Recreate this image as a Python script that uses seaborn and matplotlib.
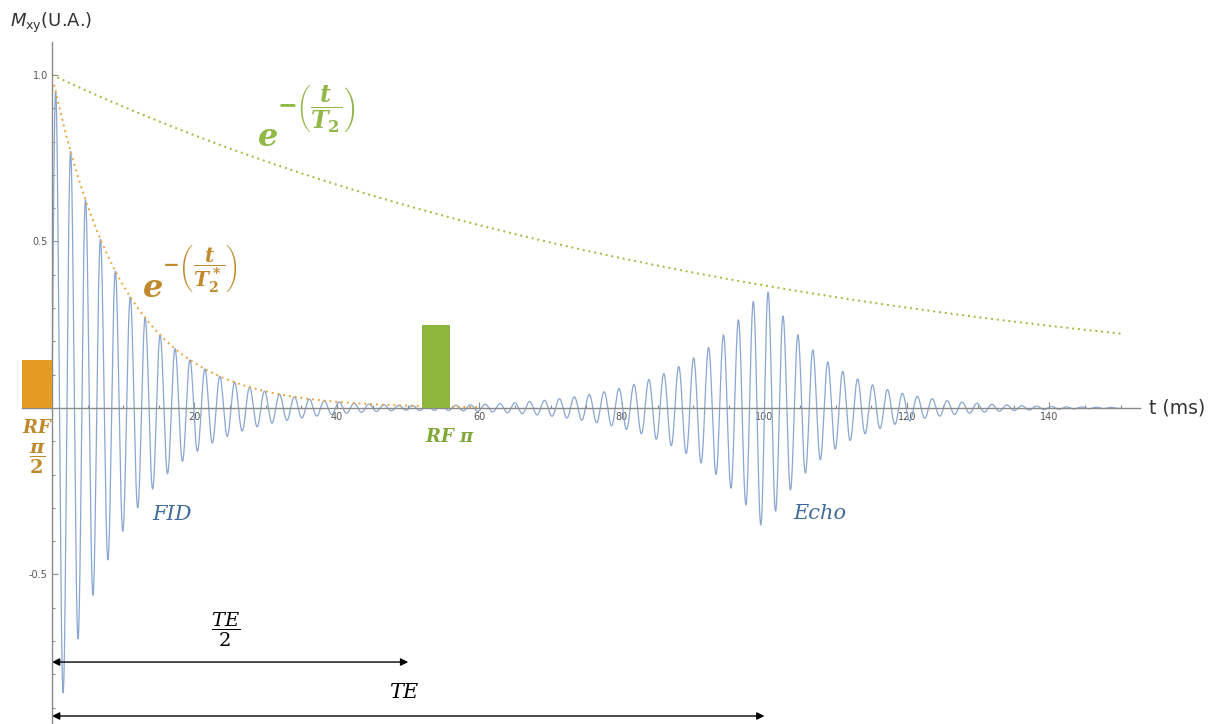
import numpy as np
import pandas as pd
import matplotlib
matplotlib.use("Agg")
import matplotlib.pyplot as plt
import seaborn as sns
from matplotlib.ticker import FixedLocator

# ---- values ----
T2 = 100.0          # ms, slow (T2) envelope
T2_star = 10.0      # ms, fast (T2*) envelope
omega = 3.0         # rad/ms, precession (period ~2.1 ms)
TE = 100.0          # ms, echo time
t_end = 150.0       # ms, end of the simulated signal
t_star_end = 60.0   # ms, end of the drawn T2* envelope

pulse_names = ["RF pi/2", "RF pi"]
pulse_start = [-4.2, 52.0]
pulse_width = [4.2, 3.8]
pulse_height = [0.145, 0.25]

x_ticks = [20, 40, 60, 80, 100, 120, 140]
y_ticks = [-0.5, 0.5, 1.0]
x_tick_labels = ["20", "40", "60", "80", "100", "120", "140"]
y_tick_labels = ["-0.5", "0.5", "1.0"]
x_minor_ticks = [5, 10, 15, 25, 30, 35, 45, 50, 55, 65, 70, 75, 85, 90, 95,
                 105, 110, 115, 125, 130, 135, 145, 150]
y_minor_ticks = [-0.9, -0.8, -0.7, -0.6, -0.4, -0.3, -0.2, -0.1,
                 0.1, 0.2, 0.3, 0.4, 0.6, 0.7, 0.8, 0.9]

# ---- model curves ----
t = np.linspace(0, t_end, 12001)
fid = np.exp(-t / T2_star) * np.sin(omega * t)
echo = np.where(t >= TE / 2,
                np.exp(-t / T2) * np.exp(-np.abs(t - TE) / T2_star) * np.sin(omega * (t - TE)),
                0.0)
sig_df = pd.DataFrame({"t": t, "signal": fid + echo})

t2_df = pd.DataFrame({"t": t})
t2_df["env"] = np.exp(-t2_df["t"] / T2)
ts = np.linspace(0.3, t_star_end, 600)
t2s_df = pd.DataFrame({"t": ts, "env": np.exp(-ts / T2_star)})

# ---- style ----
sns.set_theme(style="white")
plt.rcParams["font.family"] = ["DejaVu Sans"]
plt.rcParams["mathtext.fontset"] = "custom"
plt.rcParams["mathtext.it"] = "DejaVu Serif:italic:bold"
plt.rcParams["mathtext.rm"] = "DejaVu Serif:bold"
plt.rcParams["mathtext.bf"] = "DejaVu Serif:italic:bold"
plt.rcParams["mathtext.sf"] = "DejaVu Serif:bold"

C_SIG = "#8aa6d1"
C_ORANGE_BAR = "#E39B24"
C_GOLD_TXT = "#C08A2C"
C_GREEN_BAR = "#8DB63C"
C_GREEN_TXT = "#8FB845"
C_GREEN_DOT = "#A9B43A"
C_ORANGE_DOT = "#E7A53A"
C_AXIS = "#8a8a8a"
C_BLUE_TXT = "#3E6A9C"

fig = plt.figure(figsize=(12.09, 7.24), dpi=100)
ax = fig.add_axes([0, 0, 1, 1])
ax.set_xlim(-7.30, 162.4)
ax.set_ylim(-0.949, 1.225)

# signal and envelopes
sns.lineplot(data=sig_df, x="t", y="signal", ax=ax, color=C_SIG, lw=0.9,
             estimator=None, sort=False, zorder=2)
sns.lineplot(data=t2_df, x="t", y="env", ax=ax, color=C_GREEN_DOT, lw=1.4,
             linestyle=(0, (1, 2)), estimator=None, sort=False, zorder=2)
sns.lineplot(data=t2s_df, x="t", y="env", ax=ax, color=C_ORANGE_DOT, lw=1.4,
             linestyle=(0, (1, 2)), estimator=None, sort=False, zorder=2)

# RF pulses
ax.bar(pulse_start, pulse_height, width=pulse_width, align="edge",
       color=[C_ORANGE_BAR, C_GREEN_BAR], zorder=4, linewidth=0)

# axes
for s in ["top", "right"]:
    ax.spines[s].set_visible(False)
ax.spines["left"].set_position(("data", 0))
ax.spines["bottom"].set_position(("data", 0))
ax.spines["left"].set_bounds(-0.95, 1.1)
ax.spines["bottom"].set_bounds(-4.2, 152.7)
for s in ["left", "bottom"]:
    ax.spines[s].set_color(C_AXIS)
    ax.spines[s].set_linewidth(1.0)
    ax.spines[s].set_zorder(3)

ax.xaxis.set_major_locator(FixedLocator(x_ticks))
ax.set_xticklabels(x_tick_labels)
ax.xaxis.set_minor_locator(FixedLocator(x_minor_ticks))
ax.yaxis.set_major_locator(FixedLocator(y_ticks))
ax.set_yticklabels(y_tick_labels)
ax.yaxis.set_minor_locator(FixedLocator(y_minor_ticks))
ax.tick_params(which="both", direction="in", color=C_AXIS, width=0.8,
               labelsize=7, labelcolor="#555555", pad=3,
               bottom=True, left=True)
ax.tick_params(which="major", length=4)
ax.tick_params(which="minor", length=2)
ax.set_xlabel("")
ax.set_ylabel("")
ax.grid(False)

# axis titles
ax.text(-5.9, 1.155, r"$M_{\mathrm{xy}}$(U.A.)", fontsize=13, color="#333333",
        ha="left", va="center", math_fontfamily="dejavusans")
ax.text(154.0, 0.0, "t (ms)", fontsize=13.5, color="#333333", ha="left", va="center")

# envelope labels: base "e" and a large exponent block
ax.text(28.77, 0.812, r"$e$", fontsize=23, color=C_GREEN_TXT, ha="left",
        va="center", math_fontfamily="custom")
ax.text(31.6, 0.90, r"$-\left(\dfrac{t}{T_2}\right)$", fontsize=17,
        color=C_GREEN_TXT, ha="left", va="center", math_fontfamily="custom")
ax.text(12.6, 0.359, r"$e$", fontsize=23, color=C_GOLD_TXT, ha="left",
        va="center", math_fontfamily="custom")
ax.text(15.4, 0.42, r"$-\left(\dfrac{t}{T_2^*}\right)$", fontsize=14.5,
        color=C_GOLD_TXT, ha="left", va="center", math_fontfamily="custom")

# pulse labels
ax.text(-2.0, -0.06, r"$RF$", fontsize=13, color=C_GOLD_TXT, ha="center",
        va="center", math_fontfamily="custom")
ax.text(-2.0, -0.152, r"$\dfrac{\pi}{2}$", fontsize=14, color=C_GOLD_TXT, ha="center",
        va="center", math_fontfamily="custom")
ax.text(55.9, -0.087, r"$RF\ \pi$", fontsize=13, color="#7FA838", ha="center",
        va="center", math_fontfamily="custom")

# FID / Echo
ax.text(16.8, -0.32, "FID", fontsize=15, color=C_BLUE_TXT, ha="center",
        va="center", family="DejaVu Serif", style="italic")
ax.text(107.8, -0.318, "Echo", fontsize=15, color=C_BLUE_TXT, ha="center",
        va="center", family="DejaVu Serif", style="italic")

# TE arrows
arrow_kw = dict(arrowstyle="<|-|>", color="black", lw=1.0, mutation_scale=11,
                shrinkA=0, shrinkB=0)
ax.annotate("", xy=(TE / 2, -0.763), xytext=(0, -0.763), arrowprops=arrow_kw)
ax.annotate("", xy=(TE, -0.925), xytext=(0, -0.925), arrowprops=arrow_kw)
ax.text(24.3, -0.668, r"$\dfrac{TE}{2}$", fontsize=14, color="black", ha="center",
        va="center", math_fontfamily="dejavuserif")
ax.text(49.5, -0.854, r"$TE$", fontsize=15, color="black", ha="center",
        va="center", math_fontfamily="dejavuserif")

fig.savefig("out.png", dpi=100)
